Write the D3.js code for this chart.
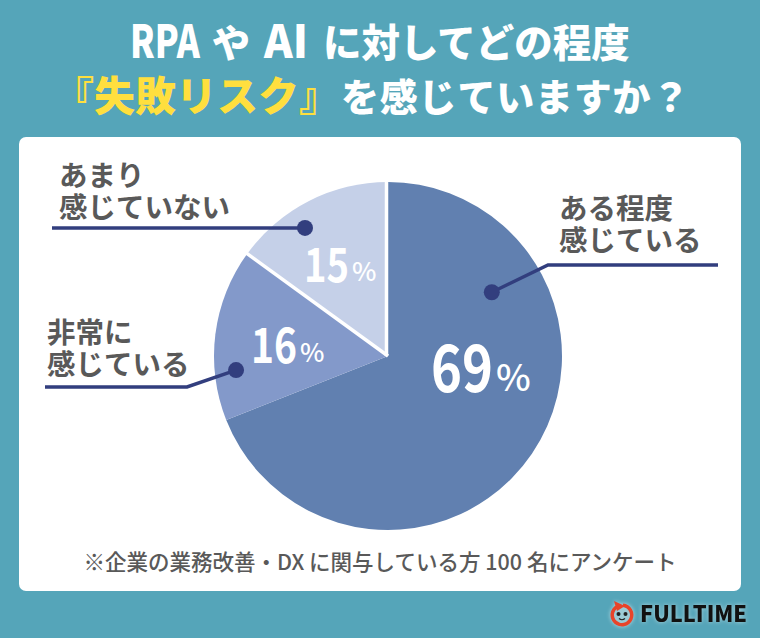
<!DOCTYPE html>
<html>
<head>
<meta charset="utf-8">
<script src="https://cdn.jsdelivr.net/npm/d3@7"></script>
<style>
html, body { margin: 0; padding: 0; background: #55a5b9; }
svg { display: block; }
text { font-family: "Noto Sans CJK JP", sans-serif; }
</style>
</head>
<body>
<svg id="chart" width="760" height="638"></svg>
<script>
// values, clockwise from 12 o'clock
var categories = ["ある程度\n感じている", "非常に\n感じている", "あまり\n感じていない"];
var values = [69, 16, 15];
var sliceColors = ["#6180b0", "#8399ca", "#c5d0e8"];
var footnote = "※企業の業務改善・DX に関与している方 100 名にアンケート";

var svg = d3.select("#chart");
var cx = 388, cy = 356, radius = 174;
var lineColor = "#323e7e", labelColor = "#595959";

// white card
svg.append("rect").attr("x", 19).attr("y", 137).attr("width", 722).attr("height", 454)
	.attr("rx", 7).attr("fill", "#fff");

// title pieces, the latin parts are condensed in the original so they get a textLength
function titlePiece(x, y, s, size, fill, squeeze, spacing) {
	var t = svg.append("text").attr("x", x).attr("y", y)
		.attr("fill", fill).attr("font-size", size).attr("font-weight", 900).text(s);
	if (squeeze) {
		t.attr("textLength", squeeze).attr("lengthAdjust", "spacingAndGlyphs");
	}
	if (spacing) {
		t.attr("letter-spacing", spacing);
	}
}
titlePiece(130, 58, "RPA", 45, "#fff", 70);
titlePiece(212, 57, "や", 38, "#fff");
titlePiece(264, 58, "AI", 45, "#fff", 44);
titlePiece(323, 57, "に対してどの程度", 38.5, "#fff");
titlePiece(53, 111, "『失敗リスク』", 41, "#ffdf3e");
titlePiece(341, 111, "を感じていますか？", 38, "#fff", null, 0.8);

// pie
var pie = d3.pie().sort(null).value(function(d) { return d; });
var arc = d3.arc().innerRadius(0).outerRadius(radius);
var arcs = pie(values);
var g = svg.append("g").attr("transform", "translate(" + cx + "," + cy + ")");
g.selectAll("path").data(arcs).enter().append("path")
	.attr("d", arc)
	.attr("fill", function(d, i) { return sliceColors[i]; });

// white separators around the lightest slice
var radial = d3.lineRadial();
[arcs[1].endAngle, arcs[2].endAngle].forEach(function(a, i) {
	g.append("path").attr("d", radial([[a, 0], [a, radius + 1]]))
		.attr("stroke", "#fff").attr("stroke-width", 3.5).attr("fill", "none")
		.attr("transform", i == 1 ? "translate(-1.5,0)" : null);
});

// percent labels: split point between number and % relative to the pie centre
var pctAnchor = [[107, 36], [-89, 7], [-37, -74]];
var pctSize = [65, 48, 47];
var pctWidth = [62, 46, 45];
var pctSmall = [37, 26, 26];
arcs.forEach(function(d, i) {
	var t = g.append("text")
		.attr("x", pctAnchor[i][0] - pctWidth[i] - 2).attr("y", pctAnchor[i][1])
		.attr("fill", "#fff");
	t.append("tspan").attr("font-weight", 700).attr("font-size", pctSize[i])
		.attr("textLength", pctWidth[i]).attr("lengthAdjust", "spacingAndGlyphs")
		.text(d.value);
	t.append("tspan").attr("dx", 3).attr("dy", -1)
		.attr("font-weight", 500).attr("font-size", pctSmall[i])
		.text("%");
});

// leader lines, dot position as [fraction of radius, angle]
var leaderDot = [[0.70, 1.02], [0.877, 4.62], [0.877, 5.708]];
var leaderPaths = [
	function(p) { return [p, [548, 265], [718, 265]]; },
	function(p) { return [p, [187, 387], [45, 387]]; },
	function(p) { return [p, [52, p[1]]]; }
];
var line = d3.line();
arcs.forEach(function(d, i) {
	var a = leaderDot[i][1], r = radius * leaderDot[i][0];
	var p = [cx + Math.sin(a) * r, cy - Math.cos(a) * r];
	svg.append("path").attr("d", line(leaderPaths[i](p)))
		.attr("fill", "none").attr("stroke", lineColor).attr("stroke-width", 3.5);
	svg.append("circle").attr("cx", p[0]).attr("cy", p[1]).attr("r", 8).attr("fill", lineColor);
});

// category labels
var labelPos = [[559, 219], [47, 343], [59, 186]];
categories.forEach(function(c, i) {
	c.split("\n").forEach(function(s, j) {
		svg.append("text").attr("x", labelPos[i][0]).attr("y", labelPos[i][1] + j * 32)
			.attr("fill", labelColor).attr("font-size", 28.5).attr("font-weight", 700).text(s);
	});
});

// footnote
svg.append("text").attr("x", 380).attr("y", 570).attr("text-anchor", "middle")
	.attr("fill", labelColor).attr("font-size", 21.5).attr("font-weight", 500).text(footnote);

// logo: open red ring with arrow head, face inside
var logo = svg.append("g").attr("transform", "translate(622,615)")
	.style("filter", "drop-shadow(0 0 2px rgba(255,255,255,0.6))");
logo.append("circle").attr("r", 9).attr("fill", "#9ccbd6");
logo.append("path")
	.attr("d", d3.arc().innerRadius(8).outerRadius(11.5).startAngle(0.1).endAngle(2 * Math.PI - 0.5)())
	.attr("fill", "#e8442a");
logo.append("path").attr("d", d3.line()([[-8, -14], [3, -9], [-5, -4]])).attr("fill", "#e8442a");
logo.append("circle").attr("cx", -3.5).attr("cy", -1).attr("r", 2).attr("fill", "#222");
logo.append("circle").attr("cx", 3.5).attr("cy", -1).attr("r", 2).attr("fill", "#222");
logo.append("path").attr("d", "M-3,3.5Q0,6 3,3.5").attr("fill", "none").attr("stroke", "#222").attr("stroke-width", 1.2);
svg.append("text").attr("x", 640).attr("y", 622).attr("fill", "#111")
	.attr("font-family", "Roboto").attr("font-size", 22).attr("font-weight", 900)
	.style("filter", "drop-shadow(0 0 2px rgba(255,255,255,0.5))")
	.attr("textLength", 107).attr("lengthAdjust", "spacingAndGlyphs").text("FULLTIME");
</script>
</body>
</html>
